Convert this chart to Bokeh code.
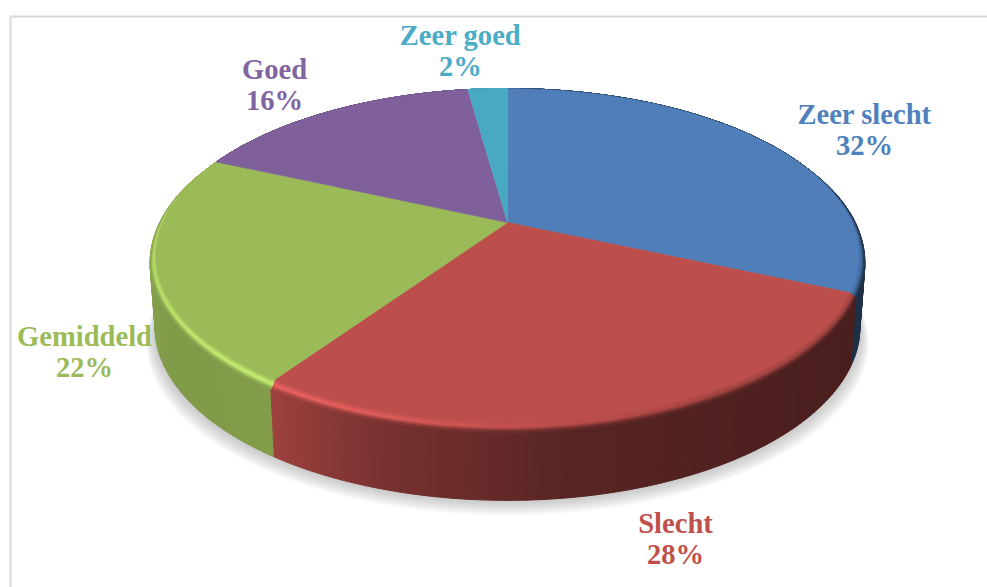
import math
from bokeh.plotting import figure
from bokeh.models import Range1d
from bokeh.core.properties import value
from bokeh.embed import file_html
from bokeh.resources import INLINE

categories = ["Zeer slecht", "Slecht", "Gemiddeld", "Goed", "Zeer goed"]
shares = [31.6, 28.0, 22.1, 16.1, 2.2]
face_colors = ["#4f7eb9", "#bc4e4b", "#9bba58", "#7f609b", "#4aa9c2"]
text_colors = ["#4f81bd", "#c0504d", "#9bbb59", "#8064a2", "#4bacc6"]
label_anchor = [(864, 129), (675, 538), (84, 351), (274, 84), (460, 50)]

W, H = 987, 587
CX, CY, R, S, K = 507.0, 222.0, 344.3, 160.1, 0.195
DEPTH = 68.0
FONT = "Liberation Serif"
FSIZE = "28.6px"
LINE = 31


def hex2rgb(h):
    return tuple(int(h[i:i + 2], 16) for i in (1, 3, 5))


def mix(a, b, t):
    return tuple(a[i] + (b[i] - a[i]) * t for i in range(3))


def scale(c, f):
    return tuple(min(255, x * f) for x in c)


def css(c):
    return "#%02x%02x%02x" % tuple(int(round(x)) for x in c)


def interp(x, xs, ys):
    if x <= xs[0]:
        return ys[0]
    for i in range(1, len(xs)):
        if x <= xs[i]:
            return ys[i - 1] + (ys[i] - ys[i - 1]) * (x - xs[i - 1]) / (xs[i] - xs[i - 1])
    return ys[-1]


def flat(th):
    u, v = math.sin(math.radians(th)), math.cos(math.radians(th))
    w = 1 + K * v
    return CX + R * u / w, CY - S * v / w


def rim(th, t):
    """Point t of the way across the bevel, 0 on the flat face, 1 on its outer edge."""
    u, v = math.sin(math.radians(th)), math.cos(math.radians(th))
    x, y = flat(th)
    m = min(1.0, max(0.0, (0.35 - v) / 0.6))
    return x + 7 * u * m * t, y + 11 * max(0.0, -v * 1.0 + 0.25) / 1.25 * m * t


def base(th, grow=1.0, dy=0.0):
    x, y = rim(th, 1)
    return CX + (x - CX) * 0.985 * grow, y + DEPTH + dy


def wall_factor(th):
    return interp(th, [60, 110, 150, 172, 195, 215, 240, 280], [0.38, 0.38, 0.42, 0.47, 0.62, 0.84, 0.83, 0.92])


def peak_factor(th):
    return interp(th, [150, 178, 200, 218, 280, 300], [0.85, 1.03, 1.22, 1.3, 1.14, 1.0])


def main():
    p = figure(width=W, height=H, output_backend="svg", toolbar_location=None,
               x_range=Range1d(0, W), y_range=Range1d(H, 0),
               min_border=0, outline_line_color=None, background_fill_color="white",
               border_fill_color="white")
    p.axis.visible = False
    p.grid.visible = False

    # frame of the picture
    p.line([10, 10, W], [H, 16, 16], line_color="#d9d9d9", line_width=2)

    # soft shadow under the disc
    for i in range(9):
        g = 1.002 + i * 0.003
        d = 1 + i * 1.7
        pts = [base(a, g, d) for a in range(0, 360, 3)]
        p.patch([q[0] for q in pts], [q[1] for q in pts], fill_color="#7f7f7f",
                fill_alpha=0.055, line_color=None)

    total = sum(shares)
    bounds = [0.0]
    for s in shares:
        bounds.append(bounds[-1] + 360.0 * s / total)

    step = 1.0
    walls = []
    xs, ys, cols = [], [], []
    for k in range(len(shares)):
        c = hex2rgb(face_colors[k])
        n = max(1, int(round((bounds[k + 1] - bounds[k]) / step)))
        for i in range(n):
            a = bounds[k] + (bounds[k + 1] - bounds[k]) * i / n
            b = bounds[k] + (bounds[k + 1] - bounds[k]) * (i + 1) / n
            mid = (a + b) / 2
            mv = math.cos(math.radians(mid))
            if mv < 0.55:
                # outer wall, kept apart so that it can be painted from back to front
                pa, pb, qb, qa = rim(a, 1), rim(b, 1), base(b), base(a)
                walls.append((-mv, [pa[0], pb[0], qb[0], qa[0]], [pa[1], pb[1], qb[1], qa[1]],
                              css(scale(c, wall_factor(mid)))))
            # bevel
            bands = 8
            for j in range(bands):
                t0, t1 = j / bands, (j + 1) / bands
                tm = (t0 + t1) / 2
                pk = scale(c, peak_factor(mid))
                wl = scale(c, wall_factor(mid))
                col = mix(c, pk, tm / 0.55) if tm < 0.55 else mix(pk, wl, (tm - 0.55) / 0.45)
                pa, pb, qb, qa = rim(a, t0), rim(b, t0), rim(b, t1), rim(a, t1)
                xs.append([pa[0], pb[0], qb[0], qa[0]])
                ys.append([pa[1], pb[1], qb[1], qa[1]])
                cols.append(css(col))
    walls.sort(key=lambda q: q[0])
    p.patches([q[1] for q in walls], [q[2] for q in walls], fill_color=[q[3] for q in walls],
              line_color=[q[3] for q in walls], line_width=1)
    p.patches(xs, ys, fill_color=cols, line_color=cols, line_width=1)

    # flat top face
    for k in range(len(shares)):
        n = max(2, int((bounds[k + 1] - bounds[k]) / 1.0))
        arc = [flat(bounds[k] + (bounds[k + 1] - bounds[k]) * i / n) for i in range(n + 1)]
        p.patch([CX] + [q[0] for q in arc], [CY] + [q[1] for q in arc],
                fill_color=face_colors[k], line_color=face_colors[k], line_width=0.5)

    # labels
    for k in range(len(shares)):
        ax, ay = label_anchor[k]
        for txt, yy in ((categories[k], ay - LINE / 2), ("%.0f%%" % shares[k], ay + LINE / 2)):
            p.text([ax], [yy], text=[txt], text_font=value(FONT), text_font_size=FSIZE,
                   text_font_style="bold", text_color=text_colors[k],
                   text_align="center", text_baseline="middle")
    return p


p = main()
open("out.html", "w").write(file_html(p, INLINE))
